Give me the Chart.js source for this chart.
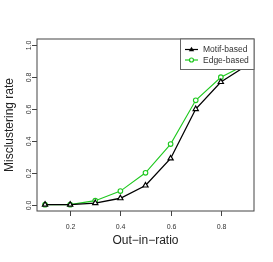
<!DOCTYPE html>
<html>
<head>
<meta charset="utf-8">
<script src="https://cdn.jsdelivr.net/npm/chart.js@4"></script>
<style>
  html, body { margin: 0; padding: 0; background: #fff; }
  #wrap { width: 273px; height: 262px; }
</style>
</head>
<body>
<div id="wrap"><canvas id="myChart" width="273" height="262"></canvas></div>
<script>
// data
const ratios = [0.1, 0.2, 0.3, 0.4, 0.5, 0.6, 0.7, 0.8, 0.9];
const motifRate = [0, 0, 0.01, 0.04, 0.12, 0.29, 0.60, 0.77, 0.87];
const edgeRate = [0, 0, 0.025, 0.085, 0.20, 0.38, 0.655, 0.80, 0.88];
const xTicks = [0.2, 0.4, 0.6, 0.8];
const yTicks = [0.0, 0.2, 0.4, 0.6, 0.8, 1.0];
const seriesNames = ["Motif-based", "Edge-based"];

const GREEN = "#1ec81e";
const AXIS = "#444";
const FONT = "'Liberation Sans', Arial, sans-serif";

// frame, ticks, labels and legend, R style
const rFrame = {
  id: "rFrame",
  afterDraw(chart) {
    const ctx = chart.ctx;
    const a = chart.chartArea;
    const xs = chart.scales.x, ys = chart.scales.y;
    ctx.save();
    ctx.strokeStyle = AXIS;
    ctx.lineWidth = 1;
    ctx.strokeRect(a.left, a.top, a.right - a.left, a.bottom - a.top);

    ctx.fillStyle = "#333";
    ctx.font = "7px " + FONT;
    ctx.textAlign = "center";
    ctx.textBaseline = "middle";

    // x ticks
    xTicks.forEach(function (v) {
      const px = Math.round(xs.getPixelForValue(v)) + 0.5;
      ctx.beginPath();
      ctx.moveTo(px, a.bottom);
      ctx.lineTo(px, a.bottom + 5);
      ctx.stroke();
      ctx.fillText(v.toFixed(1), px, 227.5);
    });

    // y ticks, labels turned like R's default
    yTicks.forEach(function (v) {
      const py = Math.round(ys.getPixelForValue(v)) + 0.5;
      ctx.beginPath();
      ctx.moveTo(a.left - 5, py);
      ctx.lineTo(a.left, py);
      ctx.stroke();
      ctx.save();
      ctx.translate(29.5, py);
      ctx.rotate(-Math.PI / 2);
      ctx.fillText(v.toFixed(1), 0, 0);
      ctx.restore();
    });

    // axis titles
    ctx.fillStyle = "#222";
    ctx.font = "12px " + FONT;
    ctx.fillText("Out\u2212in\u2212ratio", (a.left + a.right) / 2, 241);
    ctx.save();
    ctx.translate(9.5, (a.top + a.bottom) / 2);
    ctx.rotate(-Math.PI / 2);
    ctx.fillText("Misclustering rate", 0, 0);
    ctx.restore();

    // legend
    const lx = 180.5, ly = a.top, lw = a.right - 180.5, lh = 30.5;
    ctx.fillStyle = "#fff";
    ctx.fillRect(lx, ly, lw, lh);
    ctx.strokeStyle = "#666";
    ctx.strokeRect(lx, ly, lw, lh);
    const rows = [
      { y: ly + 10.5, color: "#000", style: "triangle" },
      { y: ly + 21, color: GREEN, style: "circle" }
    ];
    ctx.font = "8.5px " + FONT;
    ctx.textAlign = "left";
    rows.forEach(function (r, i) {
      ctx.strokeStyle = r.color;
      ctx.lineWidth = 1.2;
      ctx.beginPath();
      ctx.moveTo(185, r.y);
      ctx.lineTo(198, r.y);
      ctx.stroke();
      ctx.fillStyle = r.color;
      ctx.beginPath();
      if (r.style === "triangle") {
        ctx.moveTo(191.5, r.y - 2.7);
        ctx.lineTo(194.2, r.y + 1.8);
        ctx.lineTo(188.8, r.y + 1.8);
        ctx.closePath();
        ctx.fill();
      } else {
        ctx.arc(191.5, r.y, 2, 0, Math.PI * 2);
        ctx.fillStyle = "#fff";
        ctx.fill();
        ctx.stroke();
      }
      ctx.fillStyle = "#333";
      ctx.fillText(seriesNames[i], 203, r.y + 0.5);
    });
    ctx.restore();
  }
};

const ctx = document.getElementById("myChart").getContext("2d");
const myChart = new Chart(ctx, {
  type: "line",
  data: {
    datasets: [
      {
        label: seriesNames[1],
        data: ratios.map(function (x, i) { return { x: x, y: edgeRate[i] }; }),
        borderColor: GREEN,
        borderWidth: 1.1,
        pointStyle: "circle",
        pointRadius: 2.3,
        pointBorderWidth: 1.1,
        pointBorderColor: GREEN,
        pointBackgroundColor: "#fff",
        tension: 0,
        order: 2
      },
      {
        label: seriesNames[0],
        data: ratios.map(function (x, i) { return { x: x, y: motifRate[i] }; }),
        borderColor: "#000",
        borderWidth: 1.3,
        pointStyle: "triangle",
        pointRadius: 3,
        pointBorderWidth: 1.2,
        pointBorderColor: "#000",
        pointBackgroundColor: "#fff",
        tension: 0,
        order: 1
      }
    ]
  },
  options: {
    responsive: false,
    animation: false,
    devicePixelRatio: 1,
    layout: { padding: { left: 37, right: 19, top: 39, bottom: 51 } },
    plugins: { legend: { display: false }, tooltip: { enabled: false } },
    scales: {
      x: { type: "linear", min: 0.068, max: 0.932, display: false },
      y: { type: "linear", min: -0.04, max: 1.04, display: false }
    }
  },
  plugins: [rFrame]
});
</script>
</body>
</html>
